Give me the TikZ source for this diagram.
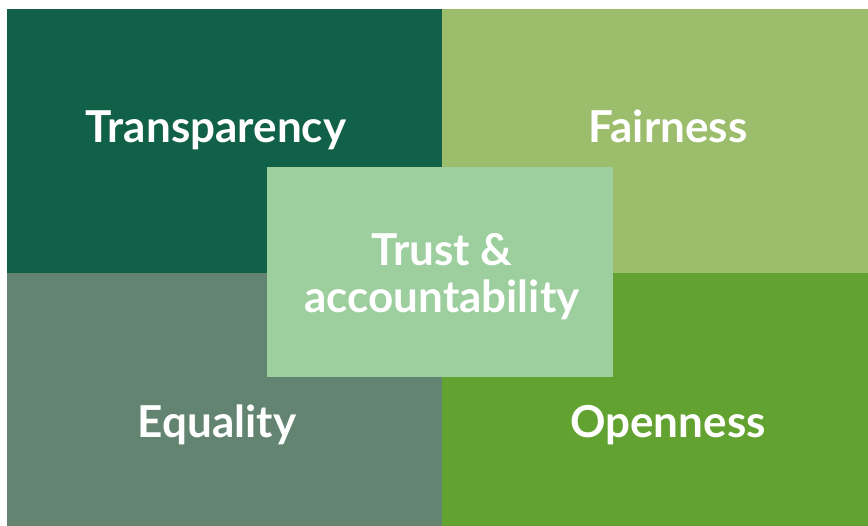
\documentclass[tikz,border=0pt]{standalone}
\usepackage{fontspec}
\setmainfont{Lato}
\definecolor{cDark}{HTML}{116149}
\definecolor{cOlive}{HTML}{9CBD6B}
\definecolor{cGrey}{HTML}{648472}
\definecolor{cBright}{HTML}{62A230}
\definecolor{cCenter}{HTML}{9CCE9E}
\begin{document}
\begin{tikzpicture}[x=1pt,y=1pt,
  lbl/.style={text=white,font=\fontsize{44}{47}\selectfont\bfseries,inner sep=0pt,anchor=base}]
\useasboundingbox (0,0) rectangle (868,526);
\fill[white] (0,0) rectangle (868,526);
\fill[cDark] (7,517) rectangle (442,253);
\fill[cOlive] (442,517) rectangle (868,253);
\fill[cGrey] (7,253) rectangle (442,0);
\fill[cBright] (442,253) rectangle (868,0);
\fill[cCenter] (267,359) rectangle (613,149);
\node[lbl] (t) at (216,383) {Transparency};
\node[lbl] (f) at (668,383) {Fairness};
\node[lbl] (e) at (217,88) {Equality};
\node[lbl] (o) at (668,88) {Openness};
\node[lbl] (c1) at (442,260) {Trust \&};
\node[lbl] (c2) at (442,213) {accountability};
\end{tikzpicture}
\end{document}
